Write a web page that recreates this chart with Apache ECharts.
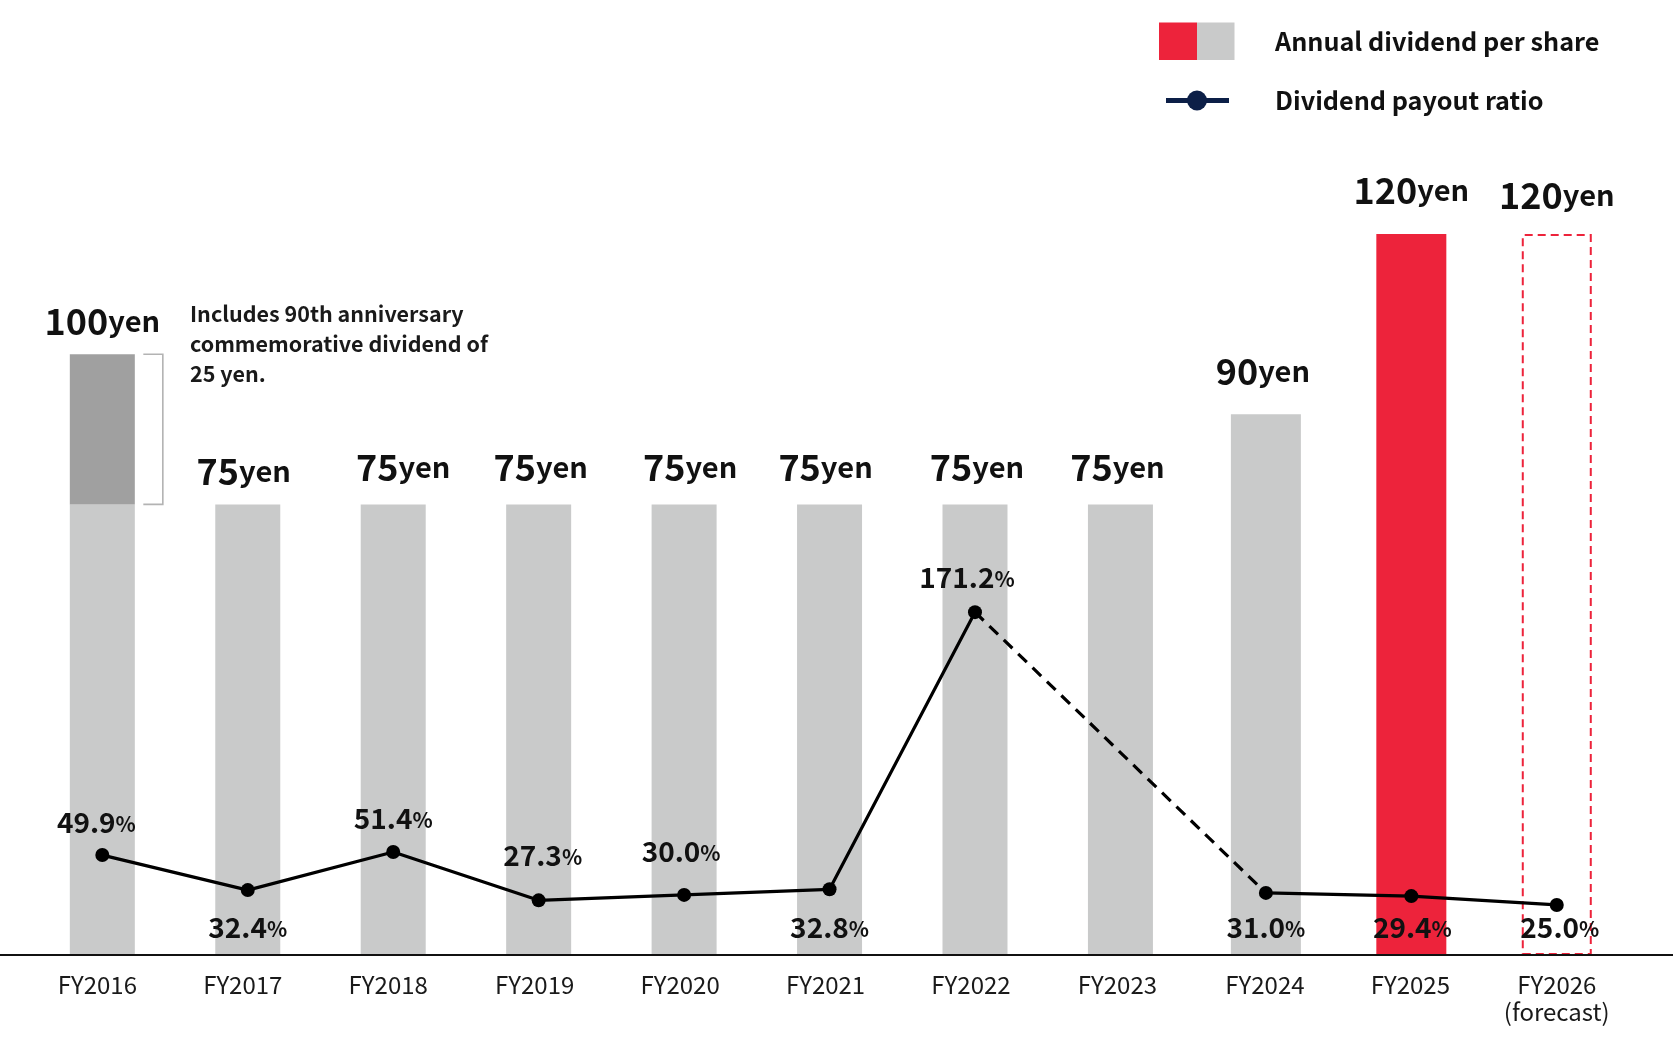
<!DOCTYPE html>
<html>
<head>
<meta charset="utf-8">
<script src="https://cdn.jsdelivr.net/npm/echarts@6/dist/echarts.min.js"></script>
<style>
  html, body { margin: 0; padding: 0; background: #fff; }
  #chart { width: 1680px; height: 1050px; }
</style>
</head>
<body>
<div id="chart"></div>
<script>
// ---- data ----
const categories = ['FY2016', 'FY2017', 'FY2018', 'FY2019', 'FY2020', 'FY2021', 'FY2022', 'FY2023', 'FY2024', 'FY2025', 'FY2026\n(forecast)'];
const ordinaryDividend = [75, 75, 75, 75, 75, 75, 75, 75, 90, 120, 120];
const commemorativeDividend = [25, 0, 0, 0, 0, 0, 0, 0, 0, 0, 0];
const payoutRatio = [49.9, 32.4, 51.4, 27.3, 30.0, 32.8, 171.2, null, 31.0, 29.4, 25.0];

// ---- styles ----
const FONT = '"Noto Sans CJK JP", "Noto Sans", sans-serif';
const GRAY = '#c9caca', DARK_GRAY = '#a0a0a0', RED = '#ed233b', NAVY = '#0c1f47';
const barKind = ['gray', 'gray', 'gray', 'gray', 'gray', 'gray', 'gray', 'gray', 'gray', 'red', 'forecast'];
const wideBar = [false, false, false, false, false, false, false, false, true, true, true];
const barLabelShift = [[0, 4], [-4, 4], [10, 0], [2, 0], [6, 0], [-4, 0], [2, 0], [-3, 0], [-3, -6], [0, -7], [0, -2]];
const axisLabelShift = [5, 5, 5, 4, 4, 4, 4, 3, 1, 1, 0]; // px moved left
// label placement for payout ratio: 'top' labels use dy from point, 'bottom' labels sit just above the axis
const pctSide = ['top', 'bottom', 'top', 'top', 'top', 'bottom', 'top', null, 'bottom', 'bottom', 'bottom'];
const pctShift = [[-6, -33], [0, 0], [0, -34], [4, -45], [-3, -44], [0, 0], [-8, -35], [0, 0], [0, 0], [1, 0], [3, 0]];

const chart = echarts.init(document.getElementById('chart'), null, { renderer: 'canvas' });

function barItemStyle(kind) {
  if (kind === 'red') return { color: RED };
  if (kind === 'forecast') return { color: 'rgba(255,255,255,0)', borderColor: RED, borderWidth: 2, borderType: [8, 5] };
  return { color: GRAY };
}

const barLabel = {
  show: true,
  position: 'top',
  distance: 19,
  formatter: p => `{n|${ordinaryDividend[p.dataIndex] + commemorativeDividend[p.dataIndex]}}{u|yen}`,
  rich: {
    n: { fontSize: 36, fontWeight: 'bold', color: '#111', fontFamily: FONT },
    u: { fontSize: 29, fontWeight: 'bold', color: '#111', fontFamily: FONT }
  }
};

const axisRich = {};
axisLabelShift.forEach((s, i) => {
  axisRich['k' + i] = { fontSize: 24, color: '#1a1a1a', lineHeight: 27, fontFamily: FONT, padding: [0, 2 * s, 0, 0] };
});

const narrowOrdinary = ordinaryDividend.map((v, i) => wideBar[i] ? '-' : { value: v, itemStyle: barItemStyle(barKind[i]) });
const narrowCommem = commemorativeDividend.map((v, i) => wideBar[i] ? '-' : { value: v, label: { offset: barLabelShift[i] } });
const wideOrdinary = ordinaryDividend.map((v, i) => wideBar[i] ? { value: v, itemStyle: barItemStyle(barKind[i]), label: { offset: barLabelShift[i] } } : '-');

const gapIdx = payoutRatio.indexOf(null);
const dashedData = payoutRatio.map((v, i) => (i >= gapIdx - 1 && i <= gapIdx + 1) ? v : null);

const option = {
  animation: false,
  backgroundColor: '#ffffff',
  textStyle: { fontFamily: FONT },
  grid: { left: 29.6, right: 50.5, top: 174, bottom: 95 },
  xAxis: [
    {
      type: 'category',
      data: categories,
      axisLine: { show: false },
      axisTick: { show: false },
      axisLabel: {
        interval: 0, hideOverlap: false,
        fontSize: 24, color: '#1a1a1a', margin: 16, lineHeight: 27, fontFamily: FONT,
        formatter: (value, index) => value.split('\n').map(line => `{k${index}|${line}}`).join('\n'),
        rich: axisRich
      }
    },
    { type: 'category', data: categories, show: false }
  ],
  yAxis: [
    { type: 'value', min: 0, max: 130, show: false, splitLine: { show: false } },
    { type: 'value', min: 0, max: 390, show: false, splitLine: { show: false } }
  ],
  series: [
    {
      name: 'Annual dividend per share',
      type: 'bar',
      stack: 'div',
      barWidth: 65,
      data: narrowOrdinary,
      silent: true
    },
    {
      name: 'Commemorative dividend',
      type: 'bar',
      stack: 'div',
      barWidth: 65,
      itemStyle: { color: DARK_GRAY },
      data: narrowCommem,
      silent: true,
      label: barLabel
    },
    {
      name: 'Annual dividend per share (recent)',
      type: 'bar',
      xAxisIndex: 1,
      barWidth: 70,
      data: wideOrdinary,
      silent: true,
      label: barLabel
    },
    {
      name: 'Dividend payout ratio (link)',
      type: 'line',
      yAxisIndex: 1,
      data: dashedData,
      connectNulls: true,
      showSymbol: false,
      symbol: 'none',
      lineStyle: { color: '#000', width: 3.2, type: [12, 8] },
      z: 3,
      silent: true
    },
    {
      name: 'Dividend payout ratio',
      type: 'line',
      yAxisIndex: 1,
      data: payoutRatio,
      connectNulls: false,
      symbol: 'circle',
      symbolSize: 14,
      itemStyle: { color: '#000' },
      lineStyle: { color: '#000', width: 3.2 },
      z: 4,
      silent: true,
      label: {
        show: true,
        position: 'inside',
        formatter: p => `{n|${p.value.toFixed(1)}}{p|%}`,
        rich: {
          n: { fontSize: 28, fontWeight: 'bold', color: '#111', fontFamily: FONT },
          p: { fontSize: 21, fontWeight: 'bold', color: '#111', fontFamily: FONT, padding: [4, 0, 0, 0] }
        }
      }
    }
  ]
};

chart.setOption(option);

// ---- post layout: label offsets, axis line, annotation, legend ----
const baseY = chart.convertToPixel({ yAxisIndex: 0 }, 0);
const bottomLabelY = baseY - 28;
const ratioData = payoutRatio.map((v, i) => {
  if (v == null) return v;
  const py = chart.convertToPixel({ yAxisIndex: 1 }, v);
  const s = pctShift[i];
  const dy = pctSide[i] === 'bottom' ? bottomLabelY - py : s[1];
  return { value: v, label: { offset: [s[0], dy] } };
});

const x0 = chart.convertToPixel({ xAxisIndex: 0 }, 0);
const yTop = chart.convertToPixel({ yAxisIndex: 0 }, ordinaryDividend[0] + commemorativeDividend[0]);
const yMid = chart.convertToPixel({ yAxisIndex: 0 }, ordinaryDividend[0]);
const bx = x0 + 60.5, bl = x0 + 41;

chart.setOption({
  series: [{}, {}, {}, {}, { data: ratioData }],
  graphic: [
    { type: 'line', shape: { x1: 0, y1: baseY, x2: 1673, y2: baseY }, style: { stroke: '#111', lineWidth: 2 }, z: 10 },
    { type: 'polyline', shape: { points: [[bl, yTop], [bx, yTop], [bx, yMid], [bl, yMid]] }, style: { stroke: '#b3b3b3', lineWidth: 1.6, fill: null } },
    {
      type: 'text', left: 190, top: 299,
      style: {
        text: 'Includes 90th anniversary\ncommemorative dividend of\n25 yen.',
        fontSize: 21.5, lineHeight: 30, fontWeight: 'bold', fill: '#1a1a1a', fontFamily: FONT
      }
    },
    // legend
    { type: 'rect', shape: { x: 1159, y: 22.5, width: 38, height: 37.5 }, style: { fill: RED } },
    { type: 'rect', shape: { x: 1197, y: 22.5, width: 37.5, height: 37.5 }, style: { fill: GRAY } },
    { type: 'line', shape: { x1: 1166, y1: 100.5, x2: 1229, y2: 100.5 }, style: { stroke: NAVY, lineWidth: 5 } },
    { type: 'circle', shape: { cx: 1197, cy: 100.5, r: 10 }, style: { fill: NAVY } },
    {
      type: 'text', left: 1275, top: 29,
      style: { text: 'Annual dividend per share', fontSize: 25.2, fontWeight: 'bold', fill: '#111', fontFamily: FONT }
    },
    {
      type: 'text', left: 1275, top: 88,
      style: { text: 'Dividend payout ratio', fontSize: 25.2, fontWeight: 'bold', fill: '#111', fontFamily: FONT }
    }
  ]
});
</script>
</body>
</html>
